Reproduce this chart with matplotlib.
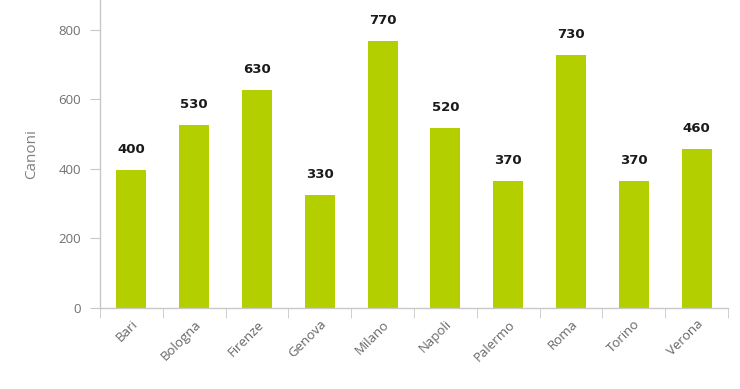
import matplotlib
matplotlib.use("Agg")
import matplotlib.pyplot as plt
import numpy as np

categories = ["Bari", "Bologna", "Firenze", "Genova", "Milano", "Napoli", "Palermo", "Roma", "Torino", "Verona"]
values = [397, 526, 627, 326, 766, 518, 366, 726, 366, 458]
labels = ["400", "530", "630", "330", "770", "520", "370", "730", "370", "460"]
yticks = [0, 200, 400, 600, 800]

plt.rcParams['font.family'] = ['Open Sans', 'DejaVu Sans']

fig = plt.figure(figsize=(7.4, 3.89), dpi=100)
ax = fig.add_axes([100/740, 81/389, 628/740, 308/389])

x = np.arange(len(categories))
ax.bar(x, values, width=0.48, color="#b3cf00", zorder=2)
for xi, v, lab in zip(x, values, labels):
    ax.text(xi, v + 40, lab, ha="center", va="bottom",
            fontsize=9.5, fontweight="bold", color="#1a1a1a", family="DejaVu Sans")

ax.set_xlim(-0.5, len(categories) - 0.5)
ax.set_ylim(0, 885)
ax.set_yticks(yticks)
ax.set_xticks(x)
ax.set_xticklabels(categories, rotation=45, ha="right", rotation_mode="anchor",
                   fontsize=9.5, color="#666666")
ax.set_xticks(np.arange(-0.5, len(categories)), minor=True)
ax.tick_params(axis="x", which="major", length=0, pad=7)
ax.tick_params(axis="x", which="minor", length=7.5, color="#c8c8c8", direction="out")
ax.tick_params(axis="y", length=7.5, color="#c8c8c8", labelsize=9.5, labelcolor="#707070", pad=6)

for s in ["top", "right"]:
    ax.spines[s].set_visible(False)
for s in ["left", "bottom"]:
    ax.spines[s].set_color("#c8c8c8")
    ax.spines[s].set_linewidth(1)

ax.set_ylabel("Canoni", fontsize=11, color="#808080", labelpad=14)

fig.savefig("out.png", dpi=100)
